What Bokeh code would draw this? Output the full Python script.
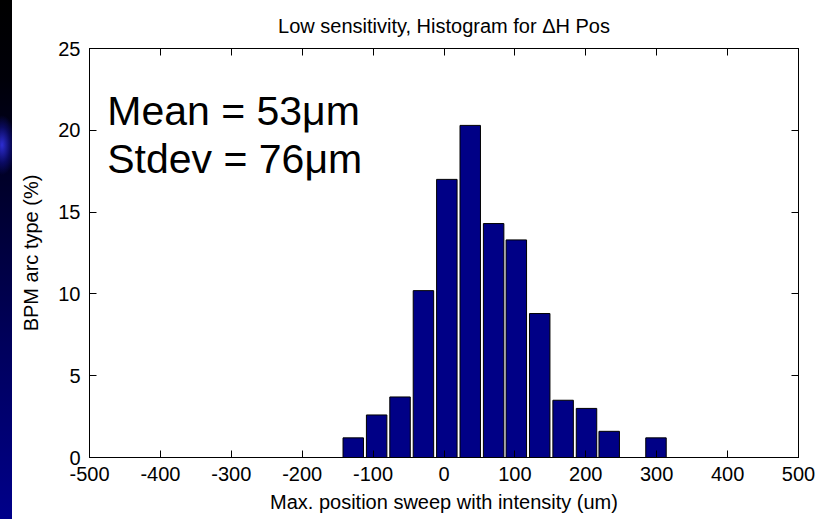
from bokeh.plotting import figure
from bokeh.models import LinearAxis, Label, Div, FixedTicker, Range1d
from bokeh.layouts import row
from bokeh.embed import file_html
from bokeh.resources import INLINE

# ---- data ----
bin_centers = [-128, -95, -62, -29, 4, 37, 70, 102, 135, 168, 201, 233, 266, 299]
percent = [1.2, 2.6, 3.7, 10.2, 17.0, 20.3, 14.3, 13.3, 8.8, 3.5, 3.0, 1.6, 0.0, 1.2]
bin_width = 32.8
x_ticks = [-500, -400, -300, -200, -100, 0, 100, 200, 300, 400, 500]
y_ticks = [0, 5, 10, 15, 20, 25]
title_text = "Low sensitivity, Histogram for \u0394H Pos"
x_label = "Max. position sweep with intensity (um)"
y_label = "BPM arc type (%)"
stats = ["Mean = 53\u03bcm", "Stdev = 76\u03bcm"]

FONT = "Liberation Sans"
STRIP_W = 12
FIG_W = 827 - STRIP_W
FIG_H = 519

p = figure(width=FIG_W, height=FIG_H, output_backend="svg", toolbar_location=None,
           x_range=Range1d(-500, 500), y_range=Range1d(0, 25),
           min_border_left=77, min_border_right=29, min_border_top=47, min_border_bottom=62,
           x_axis_location=None, y_axis_location=None)
p.background_fill_color = "white"
p.border_fill_color = "white"
p.outline_line_color = "black"
p.outline_line_width = 1
p.xgrid.visible = False
p.ygrid.visible = False

def style_axis(ax, ticks, show_labels, label_text=None, label_standoff=10):
    ax.ticker = FixedTicker(ticks=ticks)
    ax.axis_line_color = "black"
    ax.major_tick_line_color = "black"
    ax.major_tick_in = 7
    ax.major_tick_out = 0
    ax.minor_tick_in = 0
    ax.minor_tick_out = 0
    ax.minor_tick_line_color = None
    if show_labels:
        ax.major_label_overrides = {t: str(t) for t in ticks}
        ax.major_label_text_font = FONT
        ax.major_label_text_font_size = "20px"
        ax.major_label_text_color = "black"
        ax.major_label_standoff = 9
    else:
        ax.major_label_text_color = None
        ax.major_label_text_font_size = "1px"
        ax.major_label_standoff = 0
    if label_text:
        ax.axis_label = label_text
        ax.axis_label_text_font = FONT
        ax.axis_label_text_font_size = "20px"
        ax.axis_label_text_font_style = "normal"
        ax.axis_label_text_color = "black"
        ax.axis_label_standoff = label_standoff

xb = LinearAxis()
style_axis(xb, x_ticks, True, x_label, 7)
p.add_layout(xb, "below")
yl = LinearAxis()
style_axis(yl, y_ticks, True, y_label, 13)
p.add_layout(yl, "left")
xa = LinearAxis()
style_axis(xa, x_ticks, False)
p.add_layout(xa, "above")
yr = LinearAxis()
style_axis(yr, y_ticks, False)
p.add_layout(yr, "right")

p.title.text = title_text
p.title.align = "center"
p.title.text_font = FONT
p.title.text_font_size = "20px"
p.title.text_font_style = "normal"
p.title.text_color = "black"
p.title.standoff = 24

p.vbar(x=bin_centers, top=percent, width=bin_width * 0.88, bottom=0,
       fill_color="#000086", line_color="black", line_width=1)

for txt, yv in zip(stats, [21.2, 18.25]):
    p.add_layout(Label(x=-475, y=yv, text=txt, text_font=FONT, text_font_size="41px",
                       text_color="black", text_baseline="alphabetic"))

strip = Div(width=STRIP_W, height=FIG_H, styles={
    "background": "radial-gradient(ellipse 14px 30px at 2px 145px, rgba(50,50,230,0.9) 0%, rgba(20,20,160,0.5) 60%, rgba(0,0,0,0) 100%), "
                  "linear-gradient(to bottom, #000000 0%, #000008 15%, #00002a 35%, #00005a 65%, #00008a 100%)",
    "margin": "0px", "padding": "0px"})

layout = row(strip, p, spacing=0)
open("out.html", "w").write(file_html(layout, INLINE))
